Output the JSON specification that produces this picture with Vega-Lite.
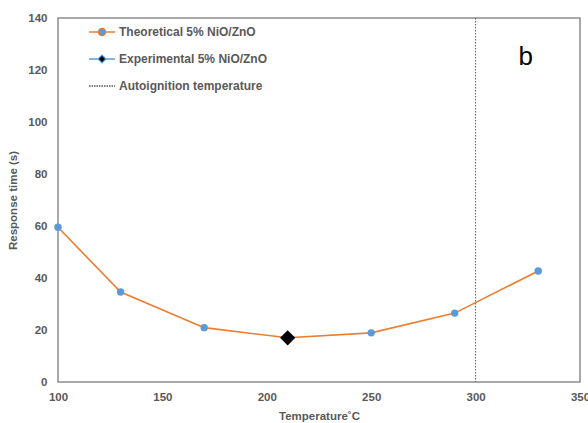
{
  "$schema": "https://vega.github.io/schema/vega-lite/v6.json",
  "width": 522,
  "height": 364,
  "autosize": {"type": "none"},
  "padding": {"left": 58, "top": 18, "right": 8, "bottom": 41},
  "background": "white",
  "config": {
    "view": {"stroke": "#8c8c8c", "strokeWidth": 1.5},
    "font": "Liberation Sans",
    "axis": {
      "grid": false,
      "ticks": false,
      "domain": false,
      "labelFont": "Liberation Sans",
      "labelFontWeight": "bold",
      "labelFontSize": 11.5,
      "labelColor": "#595959",
      "titleFont": "Liberation Sans",
      "titleFontWeight": "bold",
      "titleFontSize": 11.5,
      "titleColor": "#595959"
    }
  },
  "datasets": {
    "theo": [
      {"temp": 100, "resp": 59.5, "series": "Theoretical 5% NiO/ZnO"},
      {"temp": 130, "resp": 34.6, "series": "Theoretical 5% NiO/ZnO"},
      {"temp": 170, "resp": 20.9, "series": "Theoretical 5% NiO/ZnO"},
      {"temp": 210, "resp": 17.0, "series": "Theoretical 5% NiO/ZnO"},
      {"temp": 250, "resp": 18.9, "series": "Theoretical 5% NiO/ZnO"},
      {"temp": 290, "resp": 26.5, "series": "Theoretical 5% NiO/ZnO"},
      {"temp": 330, "resp": 42.7, "series": "Theoretical 5% NiO/ZnO"}
    ],
    "expt": [
      {"temp": 210, "resp": 17.0, "series": "Experimental 5% NiO/ZnO"}
    ],
    "auto": [
      {"temp": 300, "series": "Autoignition temperature"}
    ],
    "tag": [
      {"temp": 324, "resp": 125, "label": "b"}
    ]
  },
  "layer": [
    {
      "data": {"name": "auto"},
      "mark": {"type": "rule", "stroke": "#595959", "strokeWidth": 1, "strokeDash": [1.5, 1.5]},
      "encoding": {
        "x": {"field": "temp", "type": "quantitative"}
      }
    },
    {
      "data": {"name": "theo"},
      "mark": {"type": "line", "strokeWidth": 1.6},
      "encoding": {
        "x": {
          "field": "temp", "type": "quantitative",
          "scale": {"domain": [100, 350], "nice": false, "zero": false},
          "axis": {"values": [100, 150, 200, 250, 300, 350], "title": "Temperature˚C", "labelPadding": 9, "titlePadding": 8, "labelFlush": false}
        },
        "y": {
          "field": "resp", "type": "quantitative",
          "scale": {"domain": [0, 140], "nice": false},
          "axis": {"values": [0, 20, 40, 60, 80, 100, 120, 140], "title": "Response time (s)", "labelPadding": 11, "titlePadding": 9}
        },
        "color": {
          "field": "series", "type": "nominal",
          "scale": {
            "domain": ["Theoretical 5% NiO/ZnO", "Experimental 5% NiO/ZnO", "Autoignition temperature"],
            "range": ["#ED7D31", "#5B9BD5", "#595959"]
          },
          "legend": {
            "title": null,
            "orient": "none",
            "legendX": 30,
            "legendY": 0,
            "padding": 0,
            "symbolSize": 676,
            "symbolStrokeWidth": 1.5,
            "rowPadding": 6,
            "labelOffset": 3,
            "labelFont": "Liberation Sans",
            "labelFontWeight": "bold",
            "labelFontSize": 12,
            "labelColor": "#595959",
            "encode": {
              "symbols": {
                "update": {
                  "shape": {"signal": "datum.value === 'Theoretical 5% NiO/ZnO' ? 'M-1,0H-0.28M0.28,0H1M0.28,0A0.28,0.28,0,1,1,-0.28,0A0.28,0.28,0,1,1,0.28,0Z' : datum.value === 'Experimental 5% NiO/ZnO' ? 'M-1,0H-0.3M0.3,0H1M0,-0.3L0.3,0L0,0.3L-0.3,0Z' : 'M-1,0H1'"},
                  "fill": {"signal": "datum.value === 'Theoretical 5% NiO/ZnO' ? '#5B9BD5' : datum.value === 'Experimental 5% NiO/ZnO' ? 'black' : 'transparent'"},
                  "stroke": {"signal": "datum.value === 'Theoretical 5% NiO/ZnO' ? '#ED7D31' : datum.value === 'Experimental 5% NiO/ZnO' ? '#5B9BD5' : '#595959'"},
                  "strokeDash": {"signal": "datum.value === 'Autoignition temperature' ? [1.5, 1] : []"},
                  "strokeWidth": {"value": 1.3},
                  "opacity": {"value": 1},
                  "fillOpacity": {"value": 1}
                }
              }
            }
          }
        }
      }
    },
    {
      "data": {"name": "theo"},
      "mark": {"type": "point", "filled": true, "shape": "circle", "size": 55, "color": "#5B9BD5", "opacity": 1},
      "encoding": {
        "x": {"field": "temp", "type": "quantitative"},
        "y": {"field": "resp", "type": "quantitative"}
      }
    },
    {
      "data": {"name": "expt"},
      "mark": {"type": "point", "filled": true, "shape": "diamond", "size": 230, "color": "black", "opacity": 1},
      "encoding": {
        "x": {"field": "temp", "type": "quantitative"},
        "y": {"field": "resp", "type": "quantitative"}
      }
    },
    {
      "data": {"name": "tag"},
      "mark": {"type": "text", "fontSize": 26, "font": "Liberation Sans", "color": "black", "baseline": "middle", "align": "center"},
      "encoding": {
        "x": {"field": "temp", "type": "quantitative"},
        "y": {"field": "resp", "type": "quantitative"},
        "text": {"field": "label"}
      }
    }
  ]
}
